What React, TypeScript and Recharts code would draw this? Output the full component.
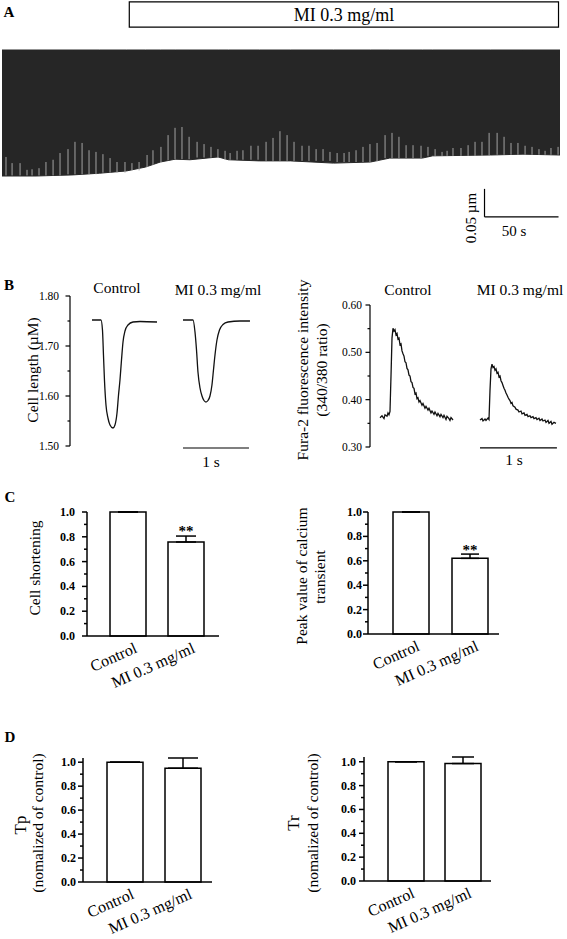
import React from 'react';
import {
  ComposedChart, BarChart, Bar, Line, Area, Scatter, XAxis, YAxis,
  ErrorBar, ReferenceLine, ReferenceArea, LabelList,
} from 'recharts';

const SERIF = '"Liberation Serif", "Times New Roman", Times, serif';

// ---------- Panel A : continuous cell-length recording ----------
// time (s) and length change (µm) of the trace envelope
const traceTime = [0, 23, 48, 66, 84, 97, 107, 117, 127, 146, 153, 174, 195, 224, 249, 262, 284, 291, 330, 352, 377];
const traceBottom = [-0.225, -0.225, -0.223, -0.22, -0.216, -0.209, -0.2, -0.195, -0.196, -0.191, -0.196, -0.198, -0.198, -0.202, -0.2, -0.193, -0.193, -0.189, -0.1875, -0.186, -0.1875];
const traceTop = [0, 0, 0, 0, 0, 0, 0, 0, 0, 0, 0, 0, 0, 0, 0, 0, 0, 0, 0, 0, 0];

const spikeTime = [
  2.7, 6.8, 12.2, 16.9, 20.3, 25.0, 29.7, 34.5, 39.2, 44.6,
  49.3, 54.1, 58.8, 63.5, 68.2, 73.0, 77.7, 83.1, 87.8, 92.6,
  98.0, 102.0, 107.4, 112.2, 116.9, 121.6, 126.4, 131.8, 136.5, 141.2,
  145.9, 150.7, 154.1, 158.8, 162.8, 168.2, 173.0, 178.4, 183.1, 187.8,
  192.6, 197.3, 202.7, 207.4, 212.2, 216.9, 221.6, 226.4, 231.1, 234.5,
  239.2, 243.9, 248.6, 253.4, 258.8, 263.5, 268.2, 273.0, 277.7, 283.1,
  287.8, 292.6, 297.3, 300.7, 304.7, 310.1, 314.9, 319.6, 324.3, 329.1,
  334.5, 339.2, 343.9, 348.6, 353.4, 358.1, 362.8, 366.9, 370.9, 375.7,
];
const spikeTop = [
  -0.191, -0.202, -0.202, -0.214, -0.213, -0.211, -0.2, -0.196, -0.184, -0.177,
  -0.164, -0.166, -0.179, -0.182, -0.186, -0.193, -0.2, -0.2, -0.202, -0.2,
  -0.1875, -0.179, -0.173, -0.152, -0.139, -0.1375, -0.155, -0.164, -0.168, -0.173,
  -0.177, -0.18, -0.184, -0.18, -0.179, -0.171, -0.171, -0.164, -0.157, -0.145,
  -0.152, -0.164, -0.171, -0.171, -0.177, -0.177, -0.182, -0.184, -0.184, -0.182,
  -0.179, -0.173, -0.168, -0.166, -0.152, -0.148, -0.155, -0.17, -0.17, -0.171,
  -0.173, -0.177, -0.182, -0.18, -0.175, -0.175, -0.17, -0.164, -0.164, -0.148,
  -0.148, -0.155, -0.166, -0.166, -0.171, -0.173, -0.177, -0.18, -0.175, -0.173,
];
const spikeBase = [
  -0.224, -0.224, -0.224, -0.224, -0.224, -0.224, -0.224, -0.224, -0.224, -0.222,
  -0.222, -0.222, -0.222, -0.222, -0.219, -0.219, -0.219, -0.219, -0.215, -0.215,
  -0.209, -0.205, -0.2, -0.197, -0.195, -0.195, -0.195, -0.192, -0.192, -0.192,
  -0.192, -0.196, -0.196, -0.196, -0.196, -0.196, -0.196, -0.198, -0.198, -0.198,
  -0.198, -0.198, -0.198, -0.198, -0.198, -0.198, -0.198, -0.2, -0.2, -0.2,
  -0.2, -0.2, -0.2, -0.199, -0.193, -0.193, -0.193, -0.193, -0.193, -0.193,
  -0.189, -0.189, -0.189, -0.189, -0.189, -0.189, -0.189, -0.189, -0.189, -0.189,
  -0.187, -0.187, -0.187, -0.187, -0.187, -0.187, -0.187, -0.187, -0.187, -0.187,
];
const miPeriod = [86, 376]; // s, drug application
const scaleBarA = { t: 326, seconds: 50, y: -0.298, microns: 0.05 };

// ---------- Panel B : single transients ----------
const lengthControlMs = [0, 136, 159, 174, 189, 212, 242, 273, 318, 348, 379, 402, 424, 447, 470, 500, 545, 621, 727, 985];
const lengthControl = [1.752, 1.752, 1.732, 1.682, 1.632, 1.582, 1.556, 1.542, 1.536, 1.542, 1.566, 1.602, 1.632, 1.672, 1.708, 1.73, 1.742, 1.748, 1.749, 1.748];
const lengthMIMs = [0, 152, 182, 205, 227, 258, 288, 318, 348, 379, 409, 439, 462, 485, 515, 553, 606, 682, 864, 1015];
const lengthMI = [1.752, 1.752, 1.728, 1.692, 1.648, 1.616, 1.6, 1.591, 1.588, 1.591, 1.6, 1.622, 1.652, 1.682, 1.712, 1.732, 1.743, 1.748, 1.75, 1.75];

const caControlMs = [0, 26, 52, 65, 91, 104, 117, 130, 143, 156, 169, 182, 195, 208, 221, 234, 247, 260, 273, 286, 299, 312, 325, 338, 351, 364, 377, 390, 403, 416, 429, 442, 455, 468, 481, 494, 507, 520, 546, 559, 585, 598, 624, 637, 663, 676, 702, 715, 741, 754, 780, 793, 819, 832, 858, 871, 897, 910, 923, 949];
const caControl = [0.362, 0.366, 0.36, 0.368, 0.365, 0.372, 0.368, 0.375, 0.45, 0.53, 0.551, 0.545, 0.548, 0.537, 0.54, 0.528, 0.53, 0.516, 0.518, 0.503, 0.497, 0.492, 0.48, 0.478, 0.466, 0.463, 0.452, 0.45, 0.438, 0.436, 0.426, 0.424, 0.412, 0.414, 0.402, 0.404, 0.395, 0.398, 0.388, 0.392, 0.382, 0.386, 0.378, 0.382, 0.372, 0.376, 0.369, 0.374, 0.366, 0.371, 0.364, 0.369, 0.362, 0.367, 0.358, 0.365, 0.36, 0.356, 0.362, 0.357];
const caMIMs = [0, 26, 39, 65, 78, 104, 117, 130, 143, 156, 169, 182, 195, 208, 221, 234, 247, 260, 273, 286, 299, 312, 325, 338, 351, 364, 377, 390, 403, 416, 429, 455, 468, 494, 507, 533, 546, 572, 585, 611, 624, 650, 663, 689, 702, 728, 741, 767, 780, 806, 819, 845, 858, 884, 897, 923, 936, 962, 988];
const caMI = [0.357, 0.36, 0.355, 0.359, 0.356, 0.361, 0.358, 0.42, 0.465, 0.475, 0.468, 0.47, 0.462, 0.465, 0.456, 0.458, 0.448, 0.45, 0.44, 0.436, 0.43, 0.424, 0.42, 0.414, 0.41, 0.405, 0.401, 0.398, 0.392, 0.394, 0.387, 0.384, 0.38, 0.378, 0.374, 0.376, 0.37, 0.372, 0.367, 0.369, 0.364, 0.366, 0.362, 0.364, 0.36, 0.362, 0.358, 0.361, 0.356, 0.359, 0.355, 0.357, 0.352, 0.356, 0.35, 0.354, 0.348, 0.352, 0.35];

const lengthTicks = [1.5, 1.55, 1.6, 1.65, 1.7, 1.75, 1.8];
const lengthMajor = [1.5, 1.6, 1.7, 1.8];
const ratioTicks = [0.3, 0.35, 0.4, 0.45, 0.5, 0.55, 0.6];
const ratioMajor = [0.3, 0.4, 0.5, 0.6];

// ---------- Panels C, D : normalised bars ----------
const groups = ['Control', 'MI 0.3 mg/ml'];
const shorteningMean = [1.0, 0.758];
const shorteningErr = [0, 0.048];
const shorteningSig = ['', '**'];
const peakMean = [1.0, 0.62];
const peakErr = [0, 0.035];
const peakSig = ['', '**'];
const tpMean = [1.0, 0.95];
const tpErr = [0, 0.085];
const trMean = [1.0, 0.985];
const trErr = [0, 0.055];
const noSig = ['', ''];
const barTicks = [0, 0.1, 0.2, 0.3, 0.4, 0.5, 0.6, 0.7, 0.8, 0.9, 1.0];
const barMajor = [0, 0.2, 0.4, 0.6, 0.8, 1.0];

// ---------- helpers ----------
type TickOpts = {
  major: number[]; digits: number; size: number; weight: number;
  tickSize: number; majorLen: number; minorLen: number; gap: number; sw: number;
};
function makeYTick(o: TickOpts) {
  return (props: any) => {
    const { x, y, payload } = props;
    const v = payload.value as number;
    const isMajor = o.major.some((m) => Math.abs(m - v) < 1e-9);
    const axisX = x + o.tickSize;
    const len = isMajor ? o.majorLen : o.minorLen;
    return (
      <g>
        <line x1={axisX - len} x2={axisX} y1={y} y2={y} stroke="#000" strokeWidth={o.sw} />
        {isMajor && (
          <text x={axisX - o.gap} y={y} textAnchor="end" dominantBaseline="central"
            fontSize={o.size} fontWeight={o.weight} fontFamily={SERIF} fill="#000">
            {v.toFixed(o.digits)}
          </text>
        )}
      </g>
    );
  };
}

const XTick = (props: any) => {
  const { x, y, payload } = props;
  const ax = x + 10;
  const ay = y + 16;
  return (
    <text x={ax} y={ay} textAnchor="end" transform={`rotate(-24, ${ax}, ${ay})`}
      fontSize={16} fontFamily={SERIF} fill="#000">
      {payload.value}
    </text>
  );
};

const Txt = ({ x, y, size = 15.5, bold = false, rot = false, children }: any) => (
  <div style={{
    position: 'absolute', left: x, top: y,
    transform: `translate(-50%, -50%)${rot ? ' rotate(-90deg)' : ''}`,
    fontSize: size, fontWeight: bold ? 700 : 400, fontFamily: SERIF,
    whiteSpace: 'nowrap', lineHeight: 1, color: '#000',
  }}>{children}</div>
);

const hiddenShape = () => <g />;

function TracePanel(p: any) {
  const ctrl = p.ctrlMs.map((ms: number, i: number) => ({ ms, v: p.ctrl[i] }));
  const mi = p.miMs.map((ms: number, i: number) => ({ ms, v: p.mi[i] }));
  return (
    <div style={{ position: 'absolute', left: p.left, top: p.top }}>
      <ComposedChart width={p.width} height={p.height} margin={p.margin}>
        <XAxis xAxisId="c" type="number" dataKey="ms" domain={p.domC} hide allowDataOverflow />
        <XAxis xAxisId="m" type="number" dataKey="ms" domain={p.domM} hide allowDataOverflow />
        <YAxis type="number" domain={p.yDom} ticks={p.ticks} interval={0} width={p.yWidth}
          axisLine={{ stroke: '#000', strokeWidth: 1.2 }} tickLine={false} tickSize={5} tickMargin={0}
          allowDataOverflow
          tick={makeYTick({ major: p.major, digits: 2, size: 11.5, weight: 400, tickSize: 5, majorLen: 4.5, minorLen: 2.5, gap: p.gap, sw: 1.2 })} />
        <Line xAxisId="c" data={ctrl} dataKey="v" type={p.curve} stroke="#111" strokeWidth={1.3}
          dot={false} isAnimationActive={false} />
        <Line xAxisId="m" data={mi} dataKey="v" type={p.curve} stroke="#111" strokeWidth={1.3}
          dot={false} isAnimationActive={false} />
        <ReferenceLine xAxisId="m" ifOverflow="visible" stroke="#000" strokeWidth={1.2}
          segment={[{ x: 0, y: p.barY }, { x: 1000, y: p.barY }]} />
      </ComposedChart>
    </div>
  );
}

function BarPanel(p: any) {
  const data = groups.map((g, i) => ({ group: g, mean: p.means[i], err: [0, p.errs[i]], sig: p.sigs[i] }));
  return (
    <div style={{ position: 'absolute', left: p.left, top: p.top }}>
      <BarChart width={p.width} height={p.height} data={data} margin={p.margin}>
        <XAxis dataKey="group" type="category" height={p.xHeight} padding={p.padding} interval={0}
          axisLine={{ stroke: '#000', strokeWidth: 1.5 }} tickLine={false} tickSize={0} tickMargin={0}
          tick={<XTick />} />
        <YAxis type="number" domain={[0, 1]} ticks={barTicks} interval={0} width={p.yWidth}
          axisLine={{ stroke: '#000', strokeWidth: 1.5 }} tickLine={false} tickSize={5} tickMargin={0}
          tick={makeYTick({ major: barMajor, digits: 1, size: 12, weight: 700, tickSize: 5, majorLen: 5, minorLen: 3, gap: p.gap, sw: 1.5 })} />
        <Bar dataKey="mean" fill="#fff" stroke="#000" strokeWidth={1.5} barSize={36} isAnimationActive={false}>
          <ErrorBar dataKey="err" width={p.cap} stroke="#000" strokeWidth={1.5} direction="y" isAnimationActive={false} />
          <LabelList dataKey="sig" position="top" offset={p.sigOffset} fontSize={15} fontWeight={700}
            fontFamily={SERIF} fill="#000" />
        </Bar>
      </BarChart>
    </div>
  );
}

export default function App() {
  const envData = traceTime.map((t, i) => ({ t, band: [traceBottom[i], traceTop[i]] }));
  const spikeData = spikeTime.map((t, i) => ({ t, top: spikeTop[i], err: [spikeTop[i] - spikeBase[i], 0] }));

  return (
    <div style={{ position: 'absolute', left: 0, top: 0, width: 567, height: 939, background: '#fff', overflow: 'hidden' }}>
      {/* Panel A */}
      <div style={{ position: 'absolute', left: 0, top: 0 }}>
        <ComposedChart width={567} height={240} data={envData} margin={{ top: 50, left: 2, right: 7, bottom: 22 }}>
          <XAxis type="number" dataKey="t" domain={[0, 377]} hide />
          <YAxis type="number" domain={[-0.3, 0]} hide />
          <ReferenceArea x1={miPeriod[0]} x2={miPeriod[1]} y1={0.041} y2={0.086} ifOverflow="visible"
            fill="#fff" fillOpacity={1} stroke="#000" strokeWidth={1.2}
            label={{ value: 'MI 0.3 mg/ml', position: 'center', fontSize: 18, fontFamily: SERIF, fill: '#000' }} />
          <Area type="linear" dataKey="band" fill="#262626" fillOpacity={1} stroke="#262626" strokeWidth={1}
            isAnimationActive={false} />
          <Scatter data={spikeData} dataKey="top" shape={hiddenShape} isAnimationActive={false}>
            <ErrorBar dataKey="err" direction="y" width={0} stroke="#a3a3a3" strokeWidth={1} isAnimationActive={false} />
          </Scatter>
          <ReferenceLine ifOverflow="visible" stroke="#000" strokeWidth={1.2}
            segment={[{ x: scaleBarA.t, y: scaleBarA.y + scaleBarA.microns }, { x: scaleBarA.t, y: scaleBarA.y }]} />
          <ReferenceLine ifOverflow="visible" stroke="#000" strokeWidth={1.2}
            segment={[{ x: scaleBarA.t, y: scaleBarA.y }, { x: scaleBarA.t + scaleBarA.seconds, y: scaleBarA.y }]} />
        </ComposedChart>
      </div>
      <Txt x={9} y={12} size={15} bold>A</Txt>
      <Txt x={471} y={218} size={15} rot>0.05 µm</Txt>
      <Txt x={514} y={231} size={15}>50 s</Txt>

      {/* Panel B */}
      <TracePanel left={0} top={280} width={270} height={190} margin={{ top: 16, right: 10, bottom: 24, left: 0 }}
        yWidth={70} yDom={[1.5, 1.8]} ticks={lengthTicks} major={lengthMajor} gap={11}
        domC={[-333, 2545]} domM={[-1712, 1167]} barY={1.496} curve="monotone"
        ctrlMs={lengthControlMs} ctrl={lengthControl} miMs={lengthMIMs} mi={lengthMI} />
      <TracePanel left={280} top={280} width={287} height={190} margin={{ top: 25, right: 7, bottom: 23, left: 0 }}
        yWidth={90} yDom={[0.3, 0.6]} ticks={ratioTicks} major={ratioMajor} gap={8}
        domC={[-130, 2340]} domM={[-1430, 1040]} barY={0.298} curve="linear"
        ctrlMs={caControlMs} ctrl={caControl} miMs={caMIMs} mi={caMI} />
      <Txt x={9} y={285} size={15} bold>B</Txt>
      <Txt x={117} y={288}>Control</Txt>
      <Txt x={218} y={290}>MI 0.3 mg/ml</Txt>
      <Txt x={408} y={290}>Control</Txt>
      <Txt x={520} y={290}>MI 0.3 mg/ml</Txt>
      <Txt x={33} y={370} rot>Cell length (µM)</Txt>
      <Txt x={303} y={370} rot>Fura-2 fluorescence intensity</Txt>
      <Txt x={322} y={370} rot>(340/380 ratio)</Txt>
      <Txt x={211} y={462}>1 s</Txt>
      <Txt x={514} y={460}>1 s</Txt>

      {/* Panel C */}
      <BarPanel left={0} top={480} width={240} height={216} margin={{ top: 32, right: 21, bottom: 0, left: 0 }}
        xHeight={60} yWidth={87} padding={{ left: 12, right: 4 }} gap={12} cap={10} sigOffset={6}
        means={shorteningMean} errs={shorteningErr} sigs={shorteningSig} />
      <BarPanel left={280} top={480} width={287} height={216} margin={{ top: 32, right: 68, bottom: 0, left: 0 }}
        xHeight={62} yWidth={88} padding={{ left: 13, right: 0 }} gap={6} cap={9} sigOffset={3}
        means={peakMean} errs={peakErr} sigs={peakSig} />
      <Txt x={10} y={497} size={15} bold>C</Txt>
      <Txt x={35} y={568} rot>Cell shortening</Txt>
      <Txt x={302} y={576} rot>Peak value of calcium</Txt>
      <Txt x={320} y={577} rot>transient</Txt>

      {/* Panel D */}
      <BarPanel left={0} top={720} width={240} height={219} margin={{ top: 38, right: 28, bottom: 0, left: 0 }}
        xHeight={57} yWidth={83} padding={{ left: 13, right: 0 }} gap={7} cap={15} sigOffset={4}
        means={tpMean} errs={tpErr} sigs={noSig} />
      <BarPanel left={280} top={720} width={287} height={219} margin={{ top: 37, right: 76, bottom: 0, left: 0 }}
        xHeight={58} yWidth={84} padding={{ left: 13, right: 0 }} gap={8} cap={11} sigOffset={4}
        means={trMean} errs={trErr} sigs={noSig} />
      <Txt x={10} y={737} size={15} bold>D</Txt>
      <Txt x={20} y={825} size={17} rot>Tp</Txt>
      <Txt x={38} y={823} rot>(nomalized of control)</Txt>
      <Txt x={293} y={823} size={17} rot>Tr</Txt>
      <Txt x={313} y={823} rot>(nomalized of control)</Txt>
    </div>
  );
}
